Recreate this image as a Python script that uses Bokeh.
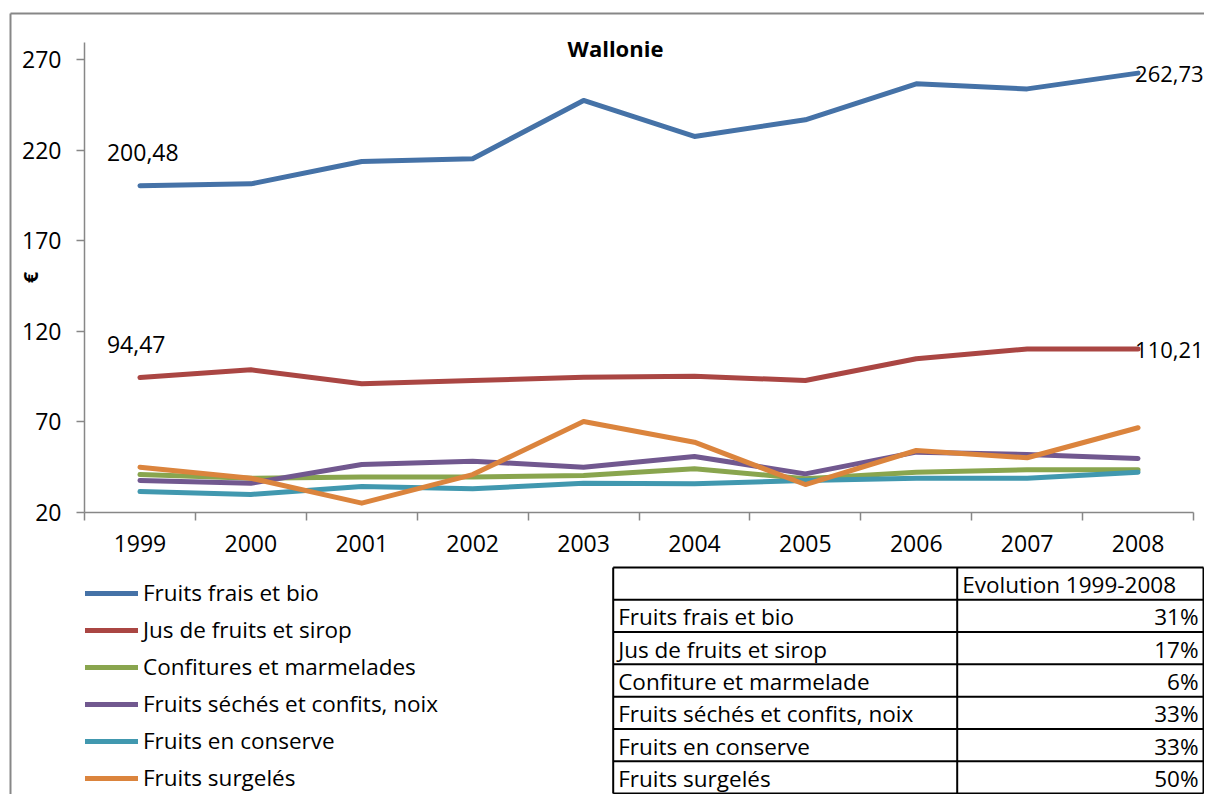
from bokeh.plotting import figure
from bokeh.models import Range1d, FixedTicker, Label, Legend, LegendItem
from bokeh.embed import file_html
from bokeh.resources import INLINE
from bokeh.core.properties import value

# ---------------- data ----------------
years = [1999, 2000, 2001, 2002, 2003, 2004, 2005, 2006, 2007, 2008]
series_names = ["Fruits frais et bio", "Jus de fruits et sirop", "Confitures et marmelades",
                "Fruits séchés et confits, noix", "Fruits en conserve", "Fruits surgelés"]
fruits_frais = [200.48, 201.5, 213.9, 215.4, 247.6, 227.7, 236.9, 256.8, 254.0, 262.73]
jus_sirop = [94.47, 98.7, 91.0, 92.8, 94.6, 95.2, 92.8, 104.8, 110.2, 110.21]
confitures = [40.8, 38.8, 39.4, 39.4, 40.3, 44.0, 38.5, 42.1, 43.4, 43.4]
fruits_seches = [37.5, 36.0, 46.4, 48.2, 44.9, 50.8, 41.2, 53.2, 51.9, 49.7]
fruits_conserve = [31.4, 29.8, 34.2, 32.9, 36.0, 35.7, 37.5, 38.8, 38.8, 42.1]
fruits_surgeles = [44.9, 38.8, 25.0, 40.8, 70.1, 58.7, 35.3, 54.1, 50.1, 66.7]
y_ticks = [20, 70, 120, 170, 220, 270]
y_min, y_max = 20, 279.8
table_header = "Evolution 1999-2008"
table_rows = ["Fruits frais et bio", "Jus de fruits et sirop", "Confiture et marmelade",
              "Fruits séchés et confits, noix", "Fruits en conserve", "Fruits surgelés"]
table_values = ["31%", "17%", "6%", "33%", "33%", "50%"]

series = [fruits_frais, jus_sirop, confitures, fruits_seches, fruits_conserve, fruits_surgeles]
colors = ["#4572A7", "#AA4643", "#89A54E", "#71588F", "#4198AF", "#DB843D"]

# ---------------- layout constants (pixels inside the canvas) ----------------
FONT = "Open Sans"
W, H = 1204, 794
AXIS_GRAY = "#878787"
PLOT_LEFT = 84          # screen x of the y axis
PLOT_BOTTOM = 511.7     # screen y (from top) of the x axis
PX_PER_YEAR = 110.9
PX_PER_EURO = 1.809

x0 = years[0] - 0.5
x_start = x0 - PLOT_LEFT / PX_PER_YEAR
x_end = x0 + (W - PLOT_LEFT) / PX_PER_YEAR
y_start = y_min - (H - PLOT_BOTTOM) / PX_PER_EURO
y_end = y_min + PLOT_BOTTOM / PX_PER_EURO

p = figure(width=W, height=H, output_backend="svg", toolbar_location=None,
           x_range=Range1d(x_start, x_end), y_range=Range1d(y_start, y_end),
           min_border_left=0, min_border_right=0, min_border_top=0, min_border_bottom=0)
p.extra_x_ranges["px"] = Range1d(0, W)
p.extra_y_ranges["px"] = Range1d(H, 0)
p.outline_line_color = None
p.grid.visible = False
p.background_fill_color = "white"
p.border_fill_color = "white"

# outer frame of the chart area (gray lines top and left)
p.segment(x0=[10, 10], y0=[13, 13], x1=[W, 10], y1=[13, H], line_color=AXIS_GRAY, line_width=2,
          x_range_name="px", y_range_name="px")

# x axis
xa = p.xaxis[0]
xa.fixed_location = y_min
xa.bounds = (x0, years[-1] + 0.5)
xa.ticker = FixedTicker(ticks=years, minor_ticks=[y - 0.5 for y in years] + [years[-1] + 0.5])
xa.major_tick_out = 0
xa.major_tick_in = 0
xa.minor_tick_out = 8
xa.minor_tick_in = 0
xa.minor_tick_line_color = AXIS_GRAY
xa.minor_tick_line_width = 1.5
xa.axis_line_color = AXIS_GRAY
xa.axis_line_width = 1.5
xa.major_label_text_font = FONT
xa.major_label_text_font_size = "23px"
xa.major_label_text_color = "black"
xa.major_label_standoff = 15

# y axis
ya = p.yaxis[0]
ya.fixed_location = x0
ya.bounds = (y_min, y_max)
ya.ticker = FixedTicker(ticks=y_ticks, minor_ticks=[])
ya.major_tick_out = 8
ya.major_tick_in = 0
ya.minor_tick_out = 0
ya.major_tick_line_color = AXIS_GRAY
ya.major_tick_line_width = 1.5
ya.axis_line_color = AXIS_GRAY
ya.axis_line_width = 1.5
ya.major_label_text_font = FONT
ya.major_label_text_font_size = "23px"
ya.major_label_text_color = "black"
ya.major_label_standoff = 15
ya.axis_label = "€"
ya.axis_label_text_font = FONT
ya.axis_label_text_font_style = "bold"
ya.axis_label_text_font_size = "20px"
ya.axis_label_text_color = "black"
ya.axis_label_standoff = -25

renderers = []
for data, c in zip(series, colors):
    renderers.append(p.line(years, data, line_width=5, color=c, line_join="round", line_cap="round"))

def fmt(v):
    return f"{v:.2f}".replace(".", ",")

for data in (fruits_frais, jus_sirop):
    p.add_layout(Label(x=years[0], y=data[0], text=fmt(data[0]), x_offset=-33, y_offset=33,
                       text_align="left", text_baseline="middle", text_font=FONT,
                       text_font_size="23px", text_color="black"))
    p.add_layout(Label(x=years[-1], y=data[-1], text=fmt(data[-1]), x_offset=-3, y_offset=-1,
                       text_align="left", text_baseline="middle", text_font=FONT,
                       text_font_size="22px", text_color="black"))

# chart title
p.add_layout(Label(x=615, y=H - 47, x_units="screen", y_units="screen", text="Wallonie",
                   text_align="center", text_baseline="middle", text_font=FONT,
                   text_font_style="bold", text_font_size="22px", text_color="black"))

# legend
legend = Legend(items=[LegendItem(label=n, renderers=[r]) for n, r in zip(series_names, renderers)],
                location=(85, 1), orientation="vertical",
                glyph_width=53, glyph_height=24, label_height=24, spacing=6,
                label_standoff=5, padding=0, margin=0,
                label_text_font=FONT, label_text_font_size="22.5px", label_text_color="black",
                border_line_color=None, background_fill_alpha=0)
p.add_layout(legend)

# table
tx0, tx1, tx2 = 612.7, 956.7, 1203
top, bottom = 567, 793
nrows = len(table_rows) + 1
row_h = (bottom - top) / nrows
ys = [top + i * row_h for i in range(nrows + 1)]
p.segment(x0=tx0, x1=tx2, y0=ys, y1=ys, line_color="black", line_width=2,
          x_range_name="px", y_range_name="px")
p.segment(x0=[tx0, tx1, tx2], x1=[tx0, tx1, tx2], y0=top, y1=bottom,
          line_color="black", line_width=2, x_range_name="px", y_range_name="px")
centers = [top + (i + 0.5) * row_h + 1 for i in range(nrows)]
p.text(x=tx1 + 5, y=centers[0], text=[table_header], text_align="left", text_baseline="middle",
       text_font=value(FONT), text_font_size="22.5px", text_color="black",
       x_range_name="px", y_range_name="px")
p.text(x=tx0 + 5, y=centers[1:], text=table_rows, text_align="left", text_baseline="middle",
       text_font=value(FONT), text_font_size="22.5px", text_color="black",
       x_range_name="px", y_range_name="px")
p.text(x=tx2 - 5, y=centers[1:], text=table_values, text_align="right", text_baseline="middle",
       text_font=value(FONT), text_font_size="22.5px", text_color="black",
       x_range_name="px", y_range_name="px")

open("out.html", "w").write(file_html(p, INLINE))
